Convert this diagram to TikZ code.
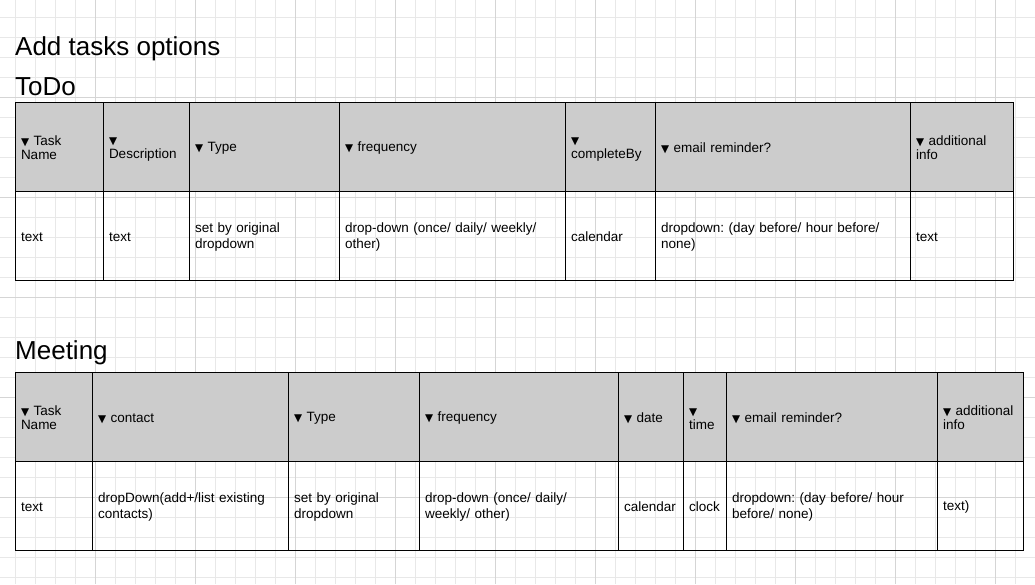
\documentclass[tikz,border=0pt]{standalone}
\usepackage{fontspec}
\setmainfont{Liberation Sans}
\newfontfamily\symfont{DejaVu Sans}
\usetikzlibrary{positioning}
\frenchspacing

\definecolor{headgray}{HTML}{CCCCCC}
\definecolor{gridlight}{HTML}{E8E8E8}
\definecolor{griddark}{HTML}{D5D5D5}

% small down triangle and cell strut
\newcommand{\tri}{{\symfont\fontsize{10.5}{10}\selectfont ▼}}
\newcommand{\cst}{\rule[-1.8pt]{0pt}{14pt}}

\tikzset{
  cell/.style={draw, line width=0.9pt, outer sep=0pt, inner xsep=6pt, inner ysep=0pt,
    minimum width=#1, text width=#1-12pt, minimum height=89pt, align=left,
    font=\fontsize{13.5}{14}\selectfont,
    execute at begin node=\cst, execute at end node=\cst},
  head/.style={cell=#1, fill=headgray},
  title/.style={font=\fontsize{26}{30}\selectfont, inner sep=0pt, anchor=base west},
  gridline/.style={gridlight, line width=1pt},
  gridmajor/.style={griddark, line width=1pt}
}

\begin{document}
\begin{tikzpicture}[x=1pt, y=-1pt]
    \useasboundingbox (0,0) rectangle (1035,584);

    % Background grid
    \foreach \x in {15,35,...,1035} \draw [gridline] (\x,0) -- (\x,584);
    \foreach \y in {17,37,...,577} \draw [gridline] (0,\y) -- (1035,\y);
    \foreach \x in {95,195,...,995} \draw [gridmajor] (\x,0) -- (\x,584);
    \foreach \y in {97,197,...,497} \draw [gridmajor] (0,\y) -- (1035,\y);

    % Titles
    \node [title] (pageTitle) at (15,55) {Add tasks options};
    \node [title] (todoTitle) at (15,95) {ToDo};
    \node [title] (meetTitle) at (15,359) {Meeting};

    % ToDo header
    \node [head=88pt, anchor=north west] (tdName) at (15,102.5) {\tri\ Task\\Name};
    \node [head=86pt, right=0pt of tdName] (tdDesc) {\tri\\Description};
    \node [head=150pt, right=0pt of tdDesc] (tdType) {\tri\ Type};
    \node [head=226pt, right=0pt of tdType] (tdFreq) {\tri\ frequency};
    \node [head=90pt, right=0pt of tdFreq] (tdBy) {\tri\\completeBy};
    \node [head=255pt, right=0pt of tdBy] (tdMail) {\tri\ email reminder?};
    \node [head=103pt, right=0pt of tdMail] (tdInfo) {\tri\ additional\\info};

    % ToDo values
    \node [cell=88pt, below=0pt of tdName] (tdNameV) {text};
    \node [cell=86pt, below=0pt of tdDesc] (tdDescV) {text};
    \node [cell=150pt, below=0pt of tdType] (tdTypeV) {set by original\\dropdown};
    \node [cell=226pt, below=0pt of tdFreq] (tdFreqV) {drop-down (once/ daily/ weekly/\\other)};
    \node [cell=90pt, below=0pt of tdBy] (tdByV) {calendar};
    \node [cell=255pt, below=0pt of tdMail] (tdMailV) {dropdown: (day before/ hour before/\\none)};
    \node [cell=103pt, below=0pt of tdInfo] (tdInfoV) {text};

    % Meeting header
    \node [head=77pt, anchor=north west] (mtName) at (15,372.5) {\tri\ Task\\Name};
    \node [head=196pt, right=0pt of mtName] (mtContact) {\tri\ contact};
    \node [head=131pt, right=0pt of mtContact] (mtType) {\tri\ Type};
    \node [head=199pt, right=0pt of mtType] (mtFreq) {\tri\ frequency};
    \node [head=65pt, right=0pt of mtFreq] (mtDate) {\tri\ date};
    \node [head=43pt, right=0pt of mtDate] (mtTime) {\tri\\time};
    \node [head=211pt, right=0pt of mtTime] (mtMail) {\tri\ email reminder?};
    \node [head=86pt, right=0pt of mtMail] (mtInfo) {\tri\ additional\\info};

    % Meeting values
    \node [cell=77pt, below=0pt of mtName] (mtNameV) {text};
    \node [cell=196pt, below=0pt of mtContact] (mtContactV) {dropDown(add+/list existing\\contacts)};
    \node [cell=131pt, below=0pt of mtType] (mtTypeV) {set by original\\dropdown};
    \node [cell=199pt, below=0pt of mtFreq] (mtFreqV) {drop-down (once/ daily/\\weekly/ other)};
    \node [cell=65pt, below=0pt of mtDate] (mtDateV) {calendar};
    \node [cell=43pt, below=0pt of mtTime] (mtTimeV) {clock};
    \node [cell=211pt, below=0pt of mtMail] (mtMailV) {dropdown: (day before/ hour\\before/ none)};
    \node [cell=86pt, below=0pt of mtInfo] (mtInfoV) {text)};
\end{tikzpicture}
\end{document}
